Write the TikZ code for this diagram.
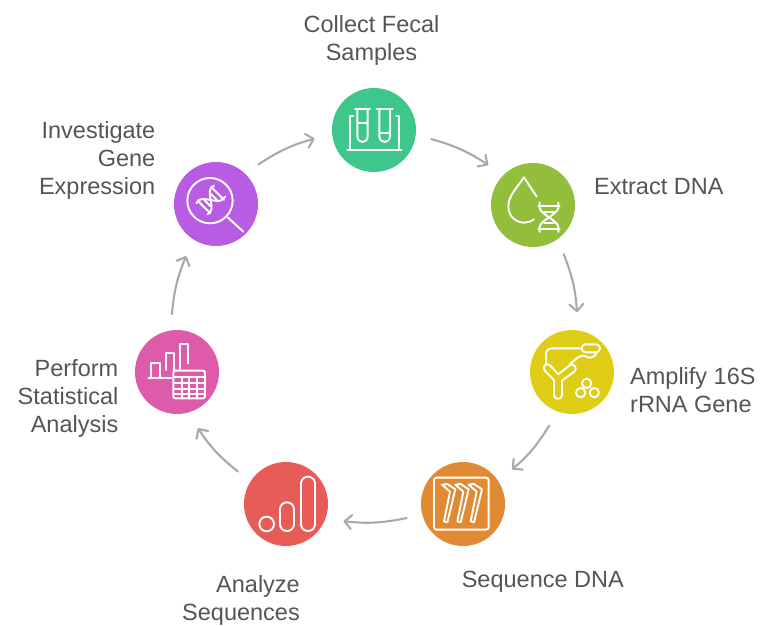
\documentclass[tikz,border=0pt]{standalone}
\usepackage{fontspec}
\setmainfont{Liberation Sans}
\usetikzlibrary{arrows.meta}
\definecolor{txt}{HTML}{555555}
\definecolor{arr}{HTML}{A9A9A9}
\definecolor{cgreen}{HTML}{3EC78A}
\definecolor{colive}{HTML}{93BE3B}
\definecolor{cyellow}{HTML}{DFCC16}
\definecolor{corange}{HTML}{E08A33}
\definecolor{cred}{HTML}{E85C57}
\definecolor{cpink}{HTML}{DE5BAB}
\definecolor{cpurple}{HTML}{B85DE3}
\tikzset{
  disc/.style={circle,minimum size=84pt,inner sep=0pt,outer sep=16pt,fill=#1},
  flow/.style={draw=arr,line width=2.1pt,line cap=round,bend left=9,shorten >=2pt,
    -{Straight Barb[length=7pt,width=14pt,line width=2.1pt,round]}},
  lbl/.style={text=txt,font=\fontsize{23.5}{28}\selectfont,inner sep=0pt},
  icon/.style={draw=white,line width=1.9pt,line cap=round,line join=round}
}
\newcommand{\helixshape}{%
  \draw[icon] (-28,-44) -- (-28,-28) .. controls (-24,-8) and (24,8) .. (28,28) -- (28,44);
  \draw[icon] (28,-44) -- (28,-28) .. controls (24,-8) and (-24,8) .. (-28,28) -- (-28,44);
  \draw[icon] (-32,-34) -- (32,-34) (-15,-16) -- (15,-16) (-15,16) -- (15,16) (-32,34) -- (32,34);
}
\begin{document}
\begin{tikzpicture}[x=1pt,y=-1pt]
\useasboundingbox (0,0) rectangle (761,626);
\node[disc=cgreen] (collect) at (374,130) {};
\node[disc=colive] (extract) at (533,205) {};
\node[disc=cyellow] (amplify) at (572,372) {};
\node[disc=corange] (sequence) at (463,504) {};
\node[disc=cred] (analyze) at (286,504) {};
\node[disc=cpink] (perform) at (177,372) {};
\node[disc=cpurple] (investigate) at (216,204) {};

\draw[flow] (collect.-9) to (extract.138);
\draw[flow] (extract.-58) to (amplify.85);
\draw[flow] (amplify.-113) to (sequence.35);
\draw[flow] (sequence.194) to (analyze.-17);
\draw[flow] (analyze.146) to (perform.-70);
\draw[flow] (perform.95) to (investigate.-120);
\draw[flow] (investigate.43) to (collect.188);

\node[lbl,align=center] (tcollect) at (371.5,40.5) {Collect Fecal\\Samples};
\node[lbl,anchor=west] (textract) at (594,187) {Extract DNA};
\node[lbl,align=left,anchor=west] (tamplify) at (630,390) {Amplify 16S\\rRNA Gene};
\node[lbl,anchor=east] (tsequence) at (624,581.5) {Sequence DNA};
\node[lbl,align=right,anchor=east] (tanalyze) at (300,600.5) {Analyze\\Sequences};
\node[lbl,align=right,anchor=east] (tperform) at (118.5,398.5) {Perform\\Statistical\\Analysis};
\node[lbl,align=right,anchor=east] (tinvestigate) at (155.5,160.5) {Investigate\\Gene\\Expression};

% test tubes
\begin{scope}[shift={(320,80)},scale=0.3333]
\draw[icon] (82,210) -- (245,210);
\draw[icon] (100,108) -- (90,108) -- (90,210);
\draw[icon] (228,108) -- (237,108) -- (237,210);
\draw[icon] (105,88) -- (150,88) (170,88) -- (218,88);
\draw[icon] (112,88) -- (112,168) .. controls (112,192) and (143,192) .. (143,168) -- (143,88);
\draw[icon] (178,88) -- (178,168) .. controls (178,192) and (210,192) .. (210,168) -- (210,88);
\draw[icon] (112,128) -- (143,128) (178,158) -- (210,158);
% drop and helix
\draw[icon] (650,350) -- (612,292) .. controls (585,330) and (565,350) .. (565,380)
  .. controls (565,410) and (590,428) .. (612,428) .. controls (622,428) and (632,425) .. (642,418);
\begin{scope}[shift={(687,412)}]
\helixshape
\end{scope}
\end{scope}
% magnifier
\begin{scope}[shift={(160,150)},scale=0.3333]
\draw[icon] (150,152) circle (68);
\draw[icon] (203,202) -- (250,245);
\begin{scope}[shift={(152,150)},rotate=-45,scale=0.85]
\helixshape
\end{scope}
\end{scope}
% amplification
\begin{scope}[shift={(520,320)},scale=0.3333]
\draw[icon] (102,226) .. controls (102,240) and (126,240) .. (126,226) -- (126,182)
  -- (163,155) .. controls (175,146) and (161,126) .. (149,136) -- (115,163)
  -- (90,136) .. controls (78,125) and (64,142) .. (76,154) -- (102,180) -- cycle;
\draw[icon] (78,134) -- (78,103) .. controls (78,92) and (85,85) .. (97,85) -- (185,85);
\draw[icon] (150,132) .. controls (165,120) and (175,107) .. (190,107) -- (208,113) .. controls (220,113) and (228,105) .. (230,97);
\draw[icon,rounded corners=4pt] (185,73) rectangle (240,97);
\draw[icon] (200,190) circle (14) (182,218) circle (14) (223,218) circle (14);
\end{scope}
% sequencing
\begin{scope}[shift={(410,455)},scale=0.3333]
\draw[icon,rounded corners=2.5pt] (72,68) rectangle (236,224);
\foreach \d in {0,40,80}{
  \draw[icon,xshift=\d] (96,89) -- (112,87) -- (136,103) -- (112,202) -- (102,199) -- (120,110) -- cycle;
}
\end{scope}
% bars
\begin{scope}[shift={(235,455)},scale=0.3333]
\draw[icon] (95,207) circle (22);
\draw[icon,rounded corners=6.8pt] (135,142) rectangle (177,228);
\draw[icon,rounded corners=6.8pt] (198,65) rectangle (240,228);
\end{scope}
% statistics
\begin{scope}[shift={(125,320)},scale=0.3333]
\draw[icon] (70,175) -- (140,175);
\draw[icon] (78,175) -- (78,128) -- (105,128) -- (105,175);
\draw[icon] (122,150) -- (122,100) -- (147,100) -- (147,150);
\draw[icon] (165,150) -- (165,72) -- (190,72) -- (190,130);
\draw[icon,rounded corners=2pt] (145,152) rectangle (240,235);
\draw[icon] (145,171) -- (240,171) (145,190) -- (240,190) (145,208) -- (240,208) (145,222) -- (240,222);
\draw[icon] (172,171) -- (172,235) (193,171) -- (193,235) (217,171) -- (217,235);
\end{scope}
\end{tikzpicture}
\end{document}
